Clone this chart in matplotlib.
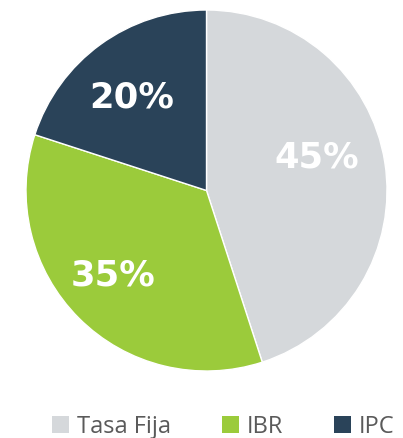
import matplotlib
matplotlib.use("Agg")
import matplotlib.pyplot as plt
from matplotlib.patches import Patch

categories = ["Tasa Fija", "IBR", "IPC"]
values = [45, 35, 20]
colors = ["#D5D8DB", "#9BCB3B", "#2A4359"]

W, H = 403, 438
cx, cy, R = 206.5, 190.5, 180.5  # pixel geometry of the pie

fig = plt.figure(figsize=(W / 100, H / 100), dpi=100)
ax = fig.add_axes([0.0, 0.0, 1.0, 1.0])

wedges, texts, autotexts = ax.pie(
    values, colors=colors, startangle=90, counterclock=False,
    autopct=lambda p: f"{p:.0f}%", pctdistance=0.66,
    wedgeprops=dict(edgecolor="white", linewidth=1.0),
    textprops=dict(color="white", fontsize=25.5, fontweight="bold", family=["DejaVu Sans"]),
    radius=1.0, center=(0, 0),
)
ax.set_xlim(-cx / R, (W - cx) / R)
ax.set_ylim(-(H - cy) / R, cy / R)
ax.set_aspect("equal", adjustable="datalim")
ax.axis("off")

# label placement (relative to pie radius)
label_pos = [(0.609, 0.200), (-0.518, -0.450), (-0.413, 0.537)]
for t, (x, y) in zip(autotexts, label_pos):
    t.set_position((x, y))
    t.set_va("center_baseline")

handles = [Patch(facecolor=c, edgecolor="none") for c in colors]
leg = fig.legend(handles, categories, loc="center left",
                 bbox_to_anchor=(52 / W, 1 - 427 / H), ncol=3,
                 frameon=False, handlelength=0.72, handleheight=0.72,
                 handletextpad=0.34, columnspacing=2.15, borderpad=0, borderaxespad=0,
                 prop=dict(family=["Open Sans", "DejaVu Sans"], size=17))
for t in leg.get_texts():
    t.set_color("#5a5a5a")

fig.savefig("out.png", dpi=100)
